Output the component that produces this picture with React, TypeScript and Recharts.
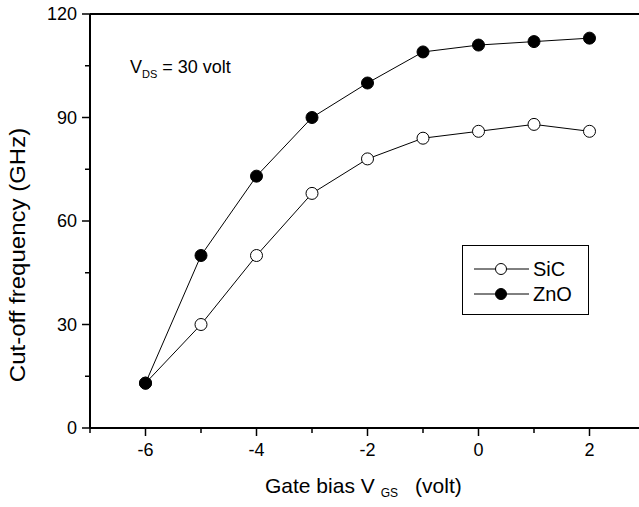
import { LineChart, Line, XAxis, YAxis, ReferenceLine, Label } from "recharts";

const gateBias = [-6, -5, -4, -3, -2, -1, 0, 1, 2];
const sicFreq = [13, 30, 50, 68, 78, 84, 86, 88, 86];
const znoFreq = [13, 50, 73, 90, 100, 109, 111, 112, 113];

const xTicks = [-7, -6, -5, -4, -3, -2, -1, 0, 1, 2, 3];
const xMajorTicks = [-6, -4, -2, 0, 2];
const yTicks = [0, 15, 30, 45, 60, 75, 90, 105, 120];
const yMajorTicks = [0, 30, 60, 90, 120];

const data = gateBias.map((x, i) => ({ x, sic: sicFreq[i], zno: znoFreq[i] }));

const FONT = "'Liberation Sans', Arial, sans-serif";

const XTick = ({ x, y, payload }: any) => {
  const major = xMajorTicks.includes(payload.value);
  return (
    <g>
      <line x1={x} x2={x} y1={y} y2={y + (major ? 8 : 5)} stroke="#000" strokeWidth={1.5} />
      {major && (
        <text x={x} y={y + 28} textAnchor="middle" fontSize={18} fontFamily={FONT} fill="#000">
          {payload.value}
        </text>
      )}
    </g>
  );
};

const YTick = ({ x, y, payload }: any) => {
  const major = yMajorTicks.includes(payload.value);
  return (
    <g>
      <line x1={x - (major ? 8 : 5)} x2={x} y1={y} y2={y} stroke="#000" strokeWidth={1.5} />
      {major && (
        <text x={x - 13} y={y + 6} textAnchor="end" fontSize={18} fontFamily={FONT} fill="#000">
          {payload.value}
        </text>
      )}
    </g>
  );
};

const OpenDot = ({ cx, cy }: any) => (
  <circle cx={cx} cy={cy} r={6} fill="#fff" stroke="#000" strokeWidth={1} />
);
const FilledDot = ({ cx, cy }: any) => <circle cx={cx} cy={cy} r={6} fill="#000" stroke="#000" />;

const LegendBox = () => (
  <div
    style={{
      position: "absolute",
      left: 462,
      top: 245,
      width: 125,
      height: 68,
      border: "1px solid #000",
      background: "#fff",
    }}
  >
    <svg width={125} height={68} style={{ position: "absolute", left: 0, top: 0 }}>
      <line x1={11} x2={66} y1={23} y2={23} stroke="#000" />
      <circle cx={38} cy={23} r={5.5} fill="#fff" stroke="#000" />
      <text x={70} y={30} fontSize={20} fontFamily={FONT}>SiC</text>
      <line x1={11} x2={66} y1={48} y2={48} stroke="#000" />
      <circle cx={38} cy={48} r={5.5} fill="#000" stroke="#000" />
      <text x={70} y={55} fontSize={20} fontFamily={FONT}>ZnO</text>
    </svg>
  </div>
);

export default function App() {
  return (
    <div style={{ position: "absolute", left: 0, top: 0, width: 639, height: 507, overflow: "hidden", background: "#fff" }}>
      <LineChart width={660} height={507} data={data} margin={{ top: 14, right: 15, bottom: 0, left: 0 }}>
        <XAxis
          type="number"
          dataKey="x"
          domain={[-7, 3]}
          ticks={xTicks}
          interval={0}
          tickLine={false}
          tickSize={0}
          tickMargin={0}
          tick={<XTick />}
          axisLine={{ stroke: "#000", strokeWidth: 2 }}
          height={79}
        >
          <Label
            content={() => (
              <text x={265} y={493} fontSize={21} fontFamily={FONT} fill="#000">
                Gate bias V
                <tspan fontSize={12} dx={6} dy={4}>GS</tspan>
                <tspan dx={17} dy={-4}>(volt)</tspan>
              </text>
            )}
          />
        </XAxis>
        <YAxis
          type="number"
          domain={[0, 120]}
          ticks={yTicks}
          interval={0}
          tickLine={false}
          tickSize={0}
          tickMargin={0}
          tick={<YTick />}
          axisLine={{ stroke: "#000", strokeWidth: 2 }}
          width={90}
        >
          <Label
            content={() => (
              <text
                x={0}
                y={0}
                transform="translate(25 255) rotate(-90) scale(1, 0.9)"
                textAnchor="middle"
                fontSize={24}
                fontFamily={FONT}
                fill="#000"
              >
                Cut-off frequency (GHz)
              </text>
            )}
          />
        </YAxis>
        <ReferenceLine y={120} stroke="#000" strokeWidth={2} />
        <Line
          dataKey="sic"
          stroke="#000"
          strokeWidth={1}
          dot={<OpenDot />}
          activeDot={false}
          isAnimationActive={false}
        />
        <Line
          dataKey="zno"
          stroke="#000"
          strokeWidth={1}
          dot={<FilledDot />}
          activeDot={false}
          isAnimationActive={false}
        />
      </LineChart>
      <div
        style={{ position: "absolute", left: 130, top: 57, fontFamily: FONT, fontSize: 18, color: "#000", whiteSpace: "nowrap" }}
      >
        V<sub style={{ fontSize: 11 }}>DS</sub> = 30 volt
      </div>
      <LegendBox />
    </div>
  );
}
